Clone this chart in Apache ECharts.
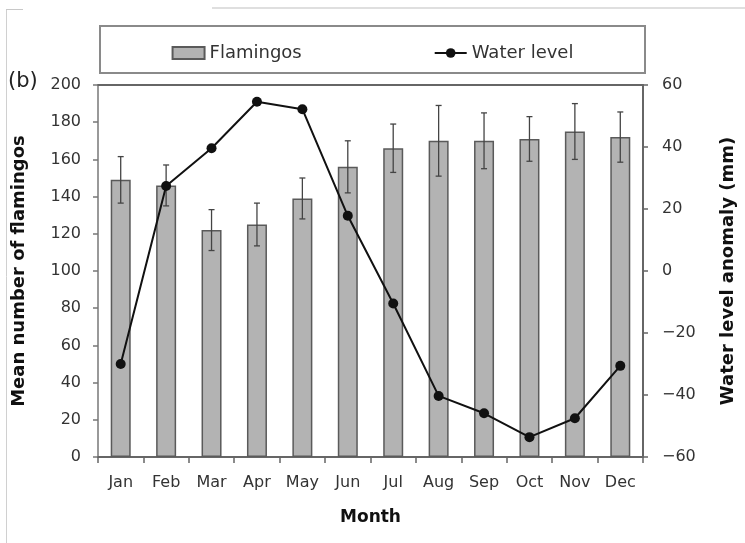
<!DOCTYPE html>
<html>
<head>
<meta charset="utf-8">
<title>Flamingos and water level</title>
<script src="https://cdn.jsdelivr.net/npm/echarts@6/dist/echarts.min.js"></script>
<style>
  html, body { margin: 0; padding: 0; background: #ffffff; }
  #chart { width: 745px; height: 543px; }
</style>
</head>
<body>
<div id="chart"></div>
<script>
// Monthly means of flamingo counts (with error bars) and water level anomaly
const months = ['Jan', 'Feb', 'Mar', 'Apr', 'May', 'Jun', 'Jul', 'Aug', 'Sep', 'Oct', 'Nov', 'Dec'];
const flamingos = [149, 146, 122, 125, 139, 156, 166, 170, 170, 171, 175, 172];
const flamingoErr = [12.5, 11, 11, 11.5, 11, 14, 13, 19, 15, 12, 15, 13.5];
const waterLevel = [-30, 27.4, 39.6, 54.6, 52.2, 17.8, -10.5, -40.3, -45.9, -53.6, -47.5, -30.6];

const chart = echarts.init(document.getElementById('chart'), null, { renderer: 'canvas' });

const FONT = 'DejaVu Sans';
const minus = v => String(v).replace('-', '\u2212');

// whiskers: vertical stem with a short cap at each end
function renderErrorBar(params, api) {
  const i = api.value(0);
  const mean = api.value(1);
  const err = api.value(2);
  const top = api.coord([i, mean + err]);
  const bot = api.coord([i, mean - err]);
  const hw = 3;
  const style = { stroke: '#444', lineWidth: 1.3 };
  return {
    type: 'group',
    children: [
      { type: 'line', shape: { x1: top[0], y1: top[1], x2: bot[0], y2: bot[1] }, style },
      { type: 'line', shape: { x1: top[0] - hw, y1: top[1], x2: top[0] + hw, y2: top[1] }, style },
      { type: 'line', shape: { x1: bot[0] - hw, y1: bot[1], x2: bot[0] + hw, y2: bot[1] }, style }
    ]
  };
}

const option = {
  backgroundColor: '#ffffff',
  animation: false,
  grid: { left: 98, right: 101, top: 85, bottom: 86 },
  legend: {
    data: [
      { name: 'Flamingos', icon: 'rect' },
      { name: 'Water level' }
    ],
    left: 'center',
    top: 39,
    itemGap: 132,
    itemWidth: 32,
    itemHeight: 12,
    textStyle: { fontFamily: FONT, fontSize: 18, color: '#333' }
  },
  graphic: [
    // outer frame fragments
    { type: 'line', shape: { x1: 6.5, y1: 10, x2: 6.5, y2: 543 }, style: { stroke: '#d0d0d0', lineWidth: 1 }, silent: true },
    { type: 'line', shape: { x1: 6, y1: 9.5, x2: 23, y2: 9.5 }, style: { stroke: '#c8c8c8', lineWidth: 1 }, silent: true },
    { type: 'line', shape: { x1: 212, y1: 8, x2: 745, y2: 8 }, style: { stroke: '#c0c0c0', lineWidth: 1.2 }, silent: true },
    // legend box
    { type: 'rect', shape: { x: 100, y: 26, width: 545, height: 47 }, style: { fill: 'none', stroke: '#8a8a8a', lineWidth: 2 }, silent: true },
    // panel tag
    { type: 'text', left: 8, top: 71, style: { text: '(b)', fontFamily: FONT, fontSize: 21, fill: '#222' }, silent: true }
  ],
  xAxis: [
    {
      type: 'category',
      data: months,
      position: 'bottom',
      boundaryGap: true,
      axisLine: { onZero: false, lineStyle: { color: '#666', width: 2 } },
      axisTick: { show: true, length: 6, lineStyle: { color: '#666', width: 1.5 } },
      axisLabel: { fontFamily: FONT, fontSize: 16, color: '#333', margin: 18 },
      name: 'Month',
      nameLocation: 'middle',
      nameGap: 52,
      nameTextStyle: { fontFamily: FONT, fontSize: 17, fontWeight: 'bold', color: '#111' }
    },
    {
      type: 'category',
      data: months,
      position: 'top',
      axisLine: { onZero: false, lineStyle: { color: '#666', width: 2 } },
      axisTick: { show: false },
      axisLabel: { show: false }
    }
  ],
  yAxis: [
    {
      type: 'value',
      min: 0,
      max: 200,
      interval: 20,
      position: 'left',
      splitLine: { show: false },
      axisLine: { show: true, lineStyle: { color: '#999', width: 2 } },
      axisTick: { show: true, length: 5, lineStyle: { color: '#777', width: 1.5 } },
      axisLabel: { fontFamily: FONT, fontSize: 16, color: '#333', margin: 17 },
      name: 'Mean number of flamingos',
      nameLocation: 'middle',
      nameGap: 70,
      nameTextStyle: { fontFamily: FONT, fontSize: 18, fontWeight: 'bold', color: '#111' }
    },
    {
      type: 'value',
      min: -60,
      max: 60,
      interval: 20,
      position: 'right',
      splitLine: { show: false },
      axisLine: { show: true, lineStyle: { color: '#666', width: 2 } },
      axisTick: { show: true, length: 5, lineStyle: { color: '#666', width: 1.5 } },
      axisLabel: { fontFamily: FONT, fontSize: 16, color: '#333', margin: 19, formatter: minus },
      name: 'Water level anomaly (mm)',
      nameLocation: 'middle',
      nameGap: 76,
      nameRotate: 90,
      nameTextStyle: { fontFamily: FONT, fontSize: 18, fontWeight: 'bold', color: '#111' }
    }
  ],
  series: [
    {
      name: 'Flamingos',
      type: 'bar',
      xAxisIndex: 0,
      yAxisIndex: 0,
      data: flamingos,
      barWidth: 20,
      itemStyle: { color: '#b3b3b3', borderColor: '#5a5a5a', borderWidth: 1.5 },
      z: 2
    },
    {
      name: 'Flamingo error',
      type: 'custom',
      xAxisIndex: 0,
      yAxisIndex: 0,
      data: flamingos.map((v, i) => [i, v, flamingoErr[i]]),
      renderItem: renderErrorBar,
      encode: { x: 0, y: 1 },
      z: 3
    },
    {
      name: 'Water level',
      type: 'line',
      xAxisIndex: 0,
      yAxisIndex: 1,
      data: waterLevel,
      symbol: 'circle',
      symbolSize: 10,
      lineStyle: { color: '#111', width: 2 },
      itemStyle: { color: '#111' },
      z: 5
    }
  ]
};

chart.setOption(option);
</script>
</body>
</html>
